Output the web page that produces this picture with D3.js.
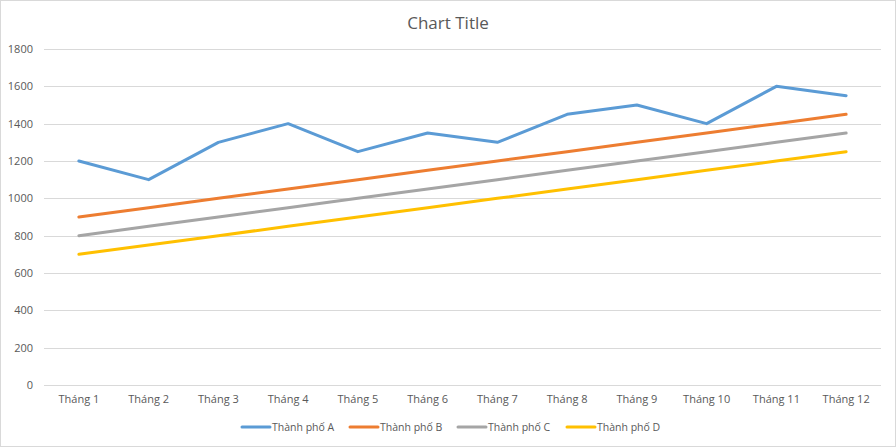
<!DOCTYPE html>
<html><head><meta charset="utf-8">
<script src="https://cdn.jsdelivr.net/npm/d3@7"></script>
<style>body{margin:0;background:#fff}svg{display:block;font-family:"Open Sans","Noto Sans",sans-serif}</style>
</head><body><svg id="c" width="896" height="447"></svg>
<script>
const categories = ["Tháng 1","Tháng 2","Tháng 3","Tháng 4","Tháng 5","Tháng 6","Tháng 7","Tháng 8","Tháng 9","Tháng 10","Tháng 11","Tháng 12"];
const seriesNames = ["Thành phố A","Thành phố B","Thành phố C","Thành phố D"];
const cityA = [1200,1100,1300,1400,1250,1350,1300,1450,1500,1400,1600,1550];
const cityB = [900,950,1000,1050,1100,1150,1200,1250,1300,1350,1400,1450];
const cityC = [800,850,900,950,1000,1050,1100,1150,1200,1250,1300,1350];
const cityD = [700,750,800,850,900,950,1000,1050,1100,1150,1200,1250];
const yTicks = [0,200,400,600,800,1000,1200,1400,1600,1800];
const colors = ["#5b9bd5","#ed7d31","#a5a5a5","#ffc000"];
const seriesData = [cityA, cityB, cityC, cityD];

const svg = d3.select("#c");
svg.append("rect").attr("x",0.5).attr("y",0.5).attr("width",895).attr("height",446)
  .attr("fill","#fff").attr("stroke","#d9d9d9");

const pL = 44, pR = 881, pT = 49, pB = 385;
const x = d3.scaleBand().domain(categories).range([pL,pR]);
const y = d3.scaleLinear().domain([0,1800]).range([pB,pT]);

svg.append("text").attr("x",448).attr("y",29).attr("text-anchor","middle")
  .attr("font-size",17).attr("fill","#595959").text("Chart Title");

const grid = svg.append("g");
grid.selectAll("line").data(yTicks).join("line")
  .attr("x1",pL).attr("x2",pR)
  .attr("y1",d=>Math.round(y(d))+0.5).attr("y2",d=>Math.round(y(d))+0.5)
  .attr("stroke","#d9d9d9").attr("stroke-width",1);

const yAxis = svg.append("g").attr("transform",`translate(${pL},0)`)
  .call(d3.axisLeft(y).tickValues(yTicks).tickFormat(d3.format("d")).tickSize(0).tickPadding(11));
yAxis.select(".domain").remove();
yAxis.selectAll("text").attr("font-size",11).attr("fill","#595959").attr("font-family","'Open Sans',sans-serif");

const xAxis = svg.append("g").attr("transform",`translate(0,${pB})`)
  .call(d3.axisBottom(x).tickSize(0).tickPadding(10));
xAxis.select(".domain").remove();
xAxis.selectAll("text").attr("font-size",11).attr("fill","#595959").attr("font-family","'Open Sans',sans-serif");

const line = d3.line().x((d,i)=>x(categories[i])+x.bandwidth()/2).y(d=>y(d));
seriesData.forEach((s,k)=>{
  svg.append("path").datum(s).attr("d",line).attr("fill","none")
    .attr("stroke",colors[k]).attr("stroke-width",3).attr("stroke-linejoin","round").attr("stroke-linecap","round");
});

const legX = [242,350,458,567];
seriesNames.forEach((n,k)=>{
  const g = svg.append("g").attr("transform",`translate(${legX[k]},427)`);
  g.append("line").attr("x1",0).attr("x2",28).attr("y1",0).attr("y2",0)
    .attr("stroke",colors[k]).attr("stroke-width",3).attr("stroke-linecap","round");
  g.append("text").attr("x",30).attr("y",4).attr("font-size",10.5).attr("fill","#595959").text(n);
});
</script></body></html>
